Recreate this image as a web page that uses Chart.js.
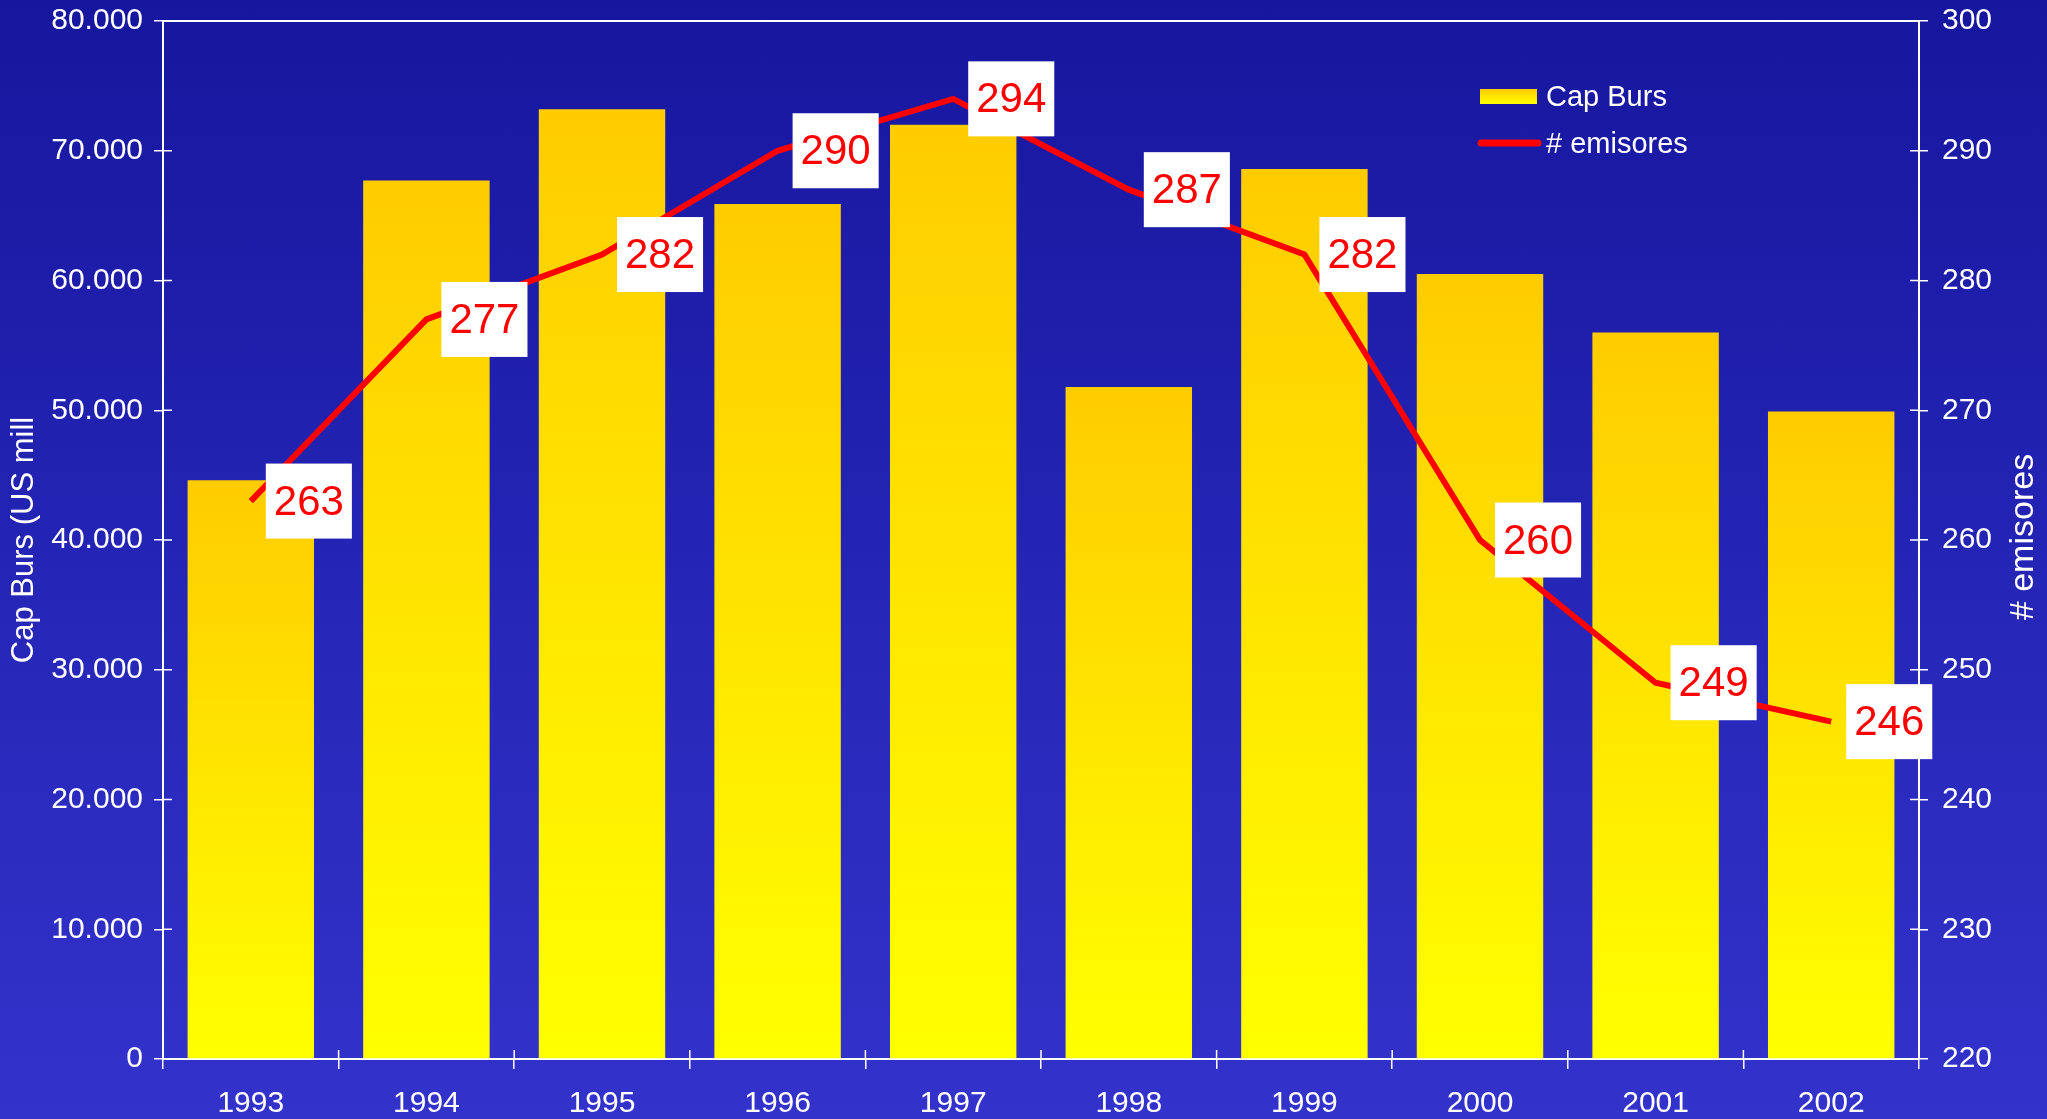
<!DOCTYPE html>
<html>
<head>
<meta charset="utf-8">
<script src="https://cdn.jsdelivr.net/npm/chart.js@4"></script>
<style>
    html, body { margin: 0; padding: 0; }
    body {
        width: 2047px;
        height: 1119px;
        overflow: hidden;
        background: linear-gradient(to bottom, #16169e, #3333cc);
    }
    canvas { display: block; }
</style>
</head>
<body>
<canvas id="capChart" width="2047" height="1119"></canvas>
<script>
const years = ['1993', '1994', '1995', '1996', '1997', '1998', '1999', '2000', '2001', '2002'];
const capBurs = [44600, 67700, 73200, 65900, 72000, 51800, 68600, 60500, 56000, 49900];
const emisores = [263, 277, 282, 290, 294, 287, 282, 260, 249, 246];

const FONT = "'Liberation Sans', Arial, sans-serif";
const WHITE = '#ffffff';

// per-bar gradient, orange-yellow on top to yellow at the base
function barGradient(c) {
    const chart = c.chart;
    if (!chart.chartArea || c.raw == null) return '#ffdd00';
    const y = chart.scales.y;
    const top = y.getPixelForValue(c.raw);
    const base = y.getPixelForValue(0);
    const g = chart.ctx.createLinearGradient(0, top, 0, base);
    g.addColorStop(0, '#ffcc00');
    g.addColorStop(1, '#ffff00');
    return g;
}

const decorations = {
    id: 'decorations',
    afterDatasetsDraw(chart) {
        const ctx = chart.ctx;
        const meta = chart.getDatasetMeta(0);
        ctx.save();
        ctx.font = '42px ' + FONT;
        ctx.textBaseline = 'middle';
        ctx.textAlign = 'center';
        meta.data.forEach((pt, i) => {
            const txt = String(emisores[i]);
            const w = ctx.measureText(txt).width + 16;
            const h = 75;
            const x = pt.x + 15;
            ctx.fillStyle = WHITE;
            ctx.fillRect(x, pt.y - h / 2, w, h);
            ctx.fillStyle = '#ff0000';
            ctx.fillText(txt, x + w / 2, pt.y + 2);
        });
        ctx.restore();
    },
    afterDraw(chart) {
        const ctx = chart.ctx;
        const area = chart.chartArea;
        ctx.save();
        ctx.strokeStyle = WHITE;
        ctx.lineWidth = 2;
        // top frame line
        ctx.beginPath();
        ctx.moveTo(area.left, area.top);
        ctx.lineTo(area.right, area.top);
        ctx.stroke();

        // inner tick marks
        ctx.lineWidth = 1.5;
        ctx.beginPath();
        chart.scales.y.ticks.forEach((t, i) => {
            const p = chart.scales.y.getPixelForTick(i);
            ctx.moveTo(area.left, p);
            ctx.lineTo(area.left + 9, p);
        });
        chart.scales.y1.ticks.forEach((t, i) => {
            const p = chart.scales.y1.getPixelForTick(i);
            ctx.moveTo(area.right, p);
            ctx.lineTo(area.right - 9, p);
        });
        const step = (area.right - area.left) / years.length;
        for (let i = 0; i <= years.length; i++) {
            const p = area.left + i * step;
            ctx.moveTo(p, area.bottom);
            ctx.lineTo(p, area.bottom - 9);
        }
        ctx.stroke();

        // right axis title, reading bottom to top
        ctx.fillStyle = WHITE;
        ctx.font = '34px ' + FONT;
        ctx.textAlign = 'center';
        ctx.textBaseline = 'middle';
        ctx.translate(2024, 537);
        ctx.rotate(-Math.PI / 2);
        ctx.fillText('# emisores', 0, 0);
        ctx.setTransform(1, 0, 0, 1, 0, 0);

        // legend
        const lg = ctx.createLinearGradient(0, 89, 0, 104);
        lg.addColorStop(0, '#ffcc00');
        lg.addColorStop(1, '#ffff00');
        ctx.fillStyle = lg;
        ctx.fillRect(1480, 89, 57, 15);
        ctx.strokeStyle = '#ff0000';
        ctx.lineWidth = 7;
        ctx.lineCap = 'round';
        ctx.beginPath();
        ctx.moveTo(1481, 143);
        ctx.lineTo(1538, 143);
        ctx.stroke();
        ctx.fillStyle = WHITE;
        ctx.font = '29px ' + FONT;
        ctx.textAlign = 'left';
        ctx.fillText('Cap Burs', 1546, 98);
        ctx.fillText('# emisores', 1546, 145);
        ctx.restore();
    }
};

// drop the half-label padding Chart.js adds above the top tick
function fitY(width) {
    return scale => {
        scale.width = width;
        scale.paddingTop = 0;
        scale.paddingBottom = 0;
    };
}

new Chart(document.getElementById('capChart'), {
    type: 'bar',
    data: {
        labels: years,
        datasets: [
            {
                type: 'line',
                label: '# emisores',
                data: emisores,
                yAxisID: 'y1',
                borderColor: '#ff0000',
                borderWidth: 6,
                pointRadius: 0,
                tension: 0,
                order: 1
            },
            {
                label: 'Cap Burs',
                data: capBurs,
                yAxisID: 'y',
                backgroundColor: barGradient,
                barPercentage: 0.72,
                categoryPercentage: 1,
                order: 2
            }
        ]
    },
    options: {
        responsive: false,
        animation: false,
        layout: { padding: { top: 21 } },
        plugins: {
            legend: { display: false },
            tooltip: { enabled: false }
        },
        scales: {
            x: {
                afterFit(scale) { scale.height = 60; },
                ticks: { color: WHITE, font: { size: 30, family: FONT }, padding: 17 },
                grid: { drawOnChartArea: false, color: WHITE, tickLength: 10, offset: true, lineWidth: 1.5 },
                border: { color: WHITE, width: 2 }
            },
            y: {
                position: 'left',
                min: 0,
                max: 80000,
                afterFit: fitY(163),
                ticks: {
                    stepSize: 10000,
                    color: WHITE,
                    font: { size: 30, family: FONT },
                    padding: 11,
                    callback: v => v.toLocaleString('de-DE')
                },
                grid: { drawOnChartArea: false, color: WHITE, tickLength: 9, lineWidth: 1.5 },
                border: { color: WHITE, width: 2 },
                title: {
                    display: true,
                    text: 'Cap Burs (US mill',
                    color: WHITE,
                    font: { size: 31, family: FONT },
                    padding: { top: 6, bottom: 0 }
                }
            },
            y1: {
                position: 'right',
                min: 220,
                max: 300,
                afterFit: fitY(128),
                ticks: { stepSize: 10, color: WHITE, font: { size: 30, family: FONT }, padding: 14 },
                grid: { drawOnChartArea: false, color: WHITE, tickLength: 9, lineWidth: 1.5 },
                border: { color: WHITE, width: 2 }
            }
        }
    },
    plugins: [decorations]
});
</script>
</body>
</html>
